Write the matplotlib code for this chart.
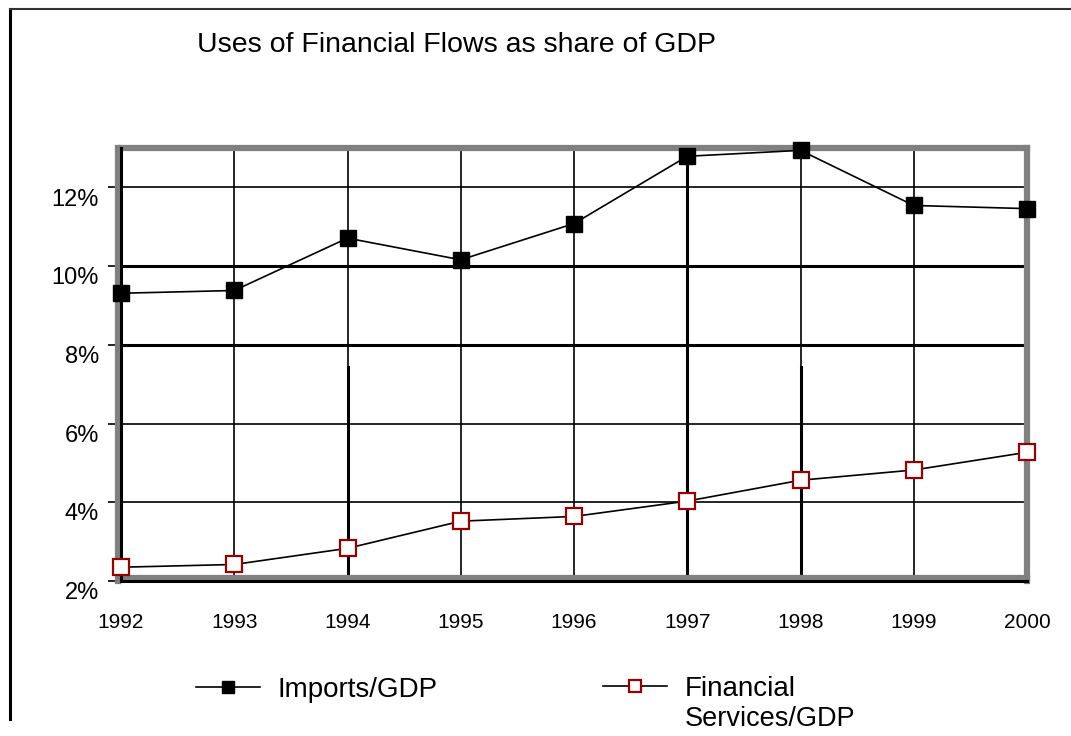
import matplotlib
matplotlib.use("Agg")
import matplotlib.pyplot as plt
import matplotlib.transforms as mtransforms
from matplotlib.lines import Line2D

plt.rcParams['font.family'] = ['Liberation Sans', 'DejaVu Sans']

# values (percent of GDP)
years = [1992, 1993, 1994, 1995, 1996, 1997, 1998, 1999, 2000]
imports_gdp = [9.31, 9.38, 10.71, 10.16, 11.08, 12.79, 12.94, 11.54, 11.46]
fin_services_gdp = [2.35, 2.42, 2.83, 3.52, 3.64, 4.03, 4.56, 4.82, 5.27]
y_ticks = [2, 4, 6, 8, 10, 12]
y_labels = ['2%', '4%', '6%', '8%', '10%', '12%']
title = 'Uses of Financial Flows as share of GDP'

fig = plt.figure(figsize=(10.71, 7.36), dpi=100)
ax = fig.add_axes([121/1071, 1 - 581/736, (1027 - 121)/1071, (581 - 148)/736])
ax.set_xlim(years[0], years[-1])
ax.set_ylim(2, 13)

# grid
for y in y_ticks:
    lw = 2.2 if y in (8, 10) else 1.2
    ax.axhline(y, color='black', lw=lw, zorder=1)
for x in years:
    ax.axvline(x, color='black', lw=1.2, zorder=1)
# heavier vertical segments seen in the scan
ax.plot([1994, 1994], [2, 7.43], color='black', lw=2.2, zorder=1)
ax.plot([1998, 1998], [2, 7.43], color='black', lw=2.2, zorder=1)
ax.plot([1997, 1997], [2, imports_gdp[5]], color='black', lw=2.2, zorder=1)

# frame
for s in ax.spines.values():
    s.set_color('#808080')
    s.set_linewidth(4.5)
ax.plot([years[0], years[0]], [2, 13], color='black', lw=2.2, clip_on=False, zorder=3)
ax.plot([years[0], years[-1]], [2, 2], color='black', lw=2.2, clip_on=False, zorder=3)
ax.spines['bottom'].set_position(('outward', -2))
ax.spines['left'].set_position(('outward', 2))

l1, = ax.plot(years, imports_gdp, color='black', lw=1.2, marker='s', ms=12,
              mfc='black', mec='black', clip_on=False, zorder=5)
l2, = ax.plot(years, fin_services_gdp, color='black', lw=1.2, marker='s', ms=11.5,
              mfc='white', mec='#990000', mew=1.6, clip_on=False, zorder=5)

ax.set_yticks(y_ticks)
ax.set_yticklabels(y_labels, fontsize=17)
ax.set_xticks(years)
ax.set_xticklabels([str(y) for y in years], fontsize=15)
ax.tick_params(axis='y', direction='out', length=7, width=1.2, pad=7)
ax.tick_params(axis='x', direction='out', length=3, width=1.2, pad=22)
shift = mtransforms.ScaledTranslation(0, -7/72, fig.dpi_scale_trans)
for lab in ax.get_yticklabels():
    lab.set_transform(lab.get_transform() + shift)

fig.text(197/1071, 1 - 45/736, title, fontsize=20.5, ha='left', va='center')

# legend
kw = dict(loc='center left', frameon=False, fontsize=20, markerscale=0.75,
          handlelength=2.3, handletextpad=0.65, borderpad=0, borderaxespad=0)
fig.legend([l1], ['Imports/GDP'], bbox_to_anchor=(196/1071, 1 - 690/736), **kw)
fig.legend([l2], ['Financial'], bbox_to_anchor=(603/1071, 1 - 689/736), **kw)
fig.text(685/1071, 1 - 719/736, 'Services/GDP', fontsize=19.5, ha='left', va='center')

# page border lines from the scan
fig.add_artist(Line2D([10/1071, 10/1071], [1 - 9/736, 1 - 719/736], color='black', lw=2.2))
fig.add_artist(Line2D([10/1071, 1.0], [1 - 9/736, 1 - 9/736], color='#333333', lw=1.5))

fig.savefig('out.png', dpi=100)
